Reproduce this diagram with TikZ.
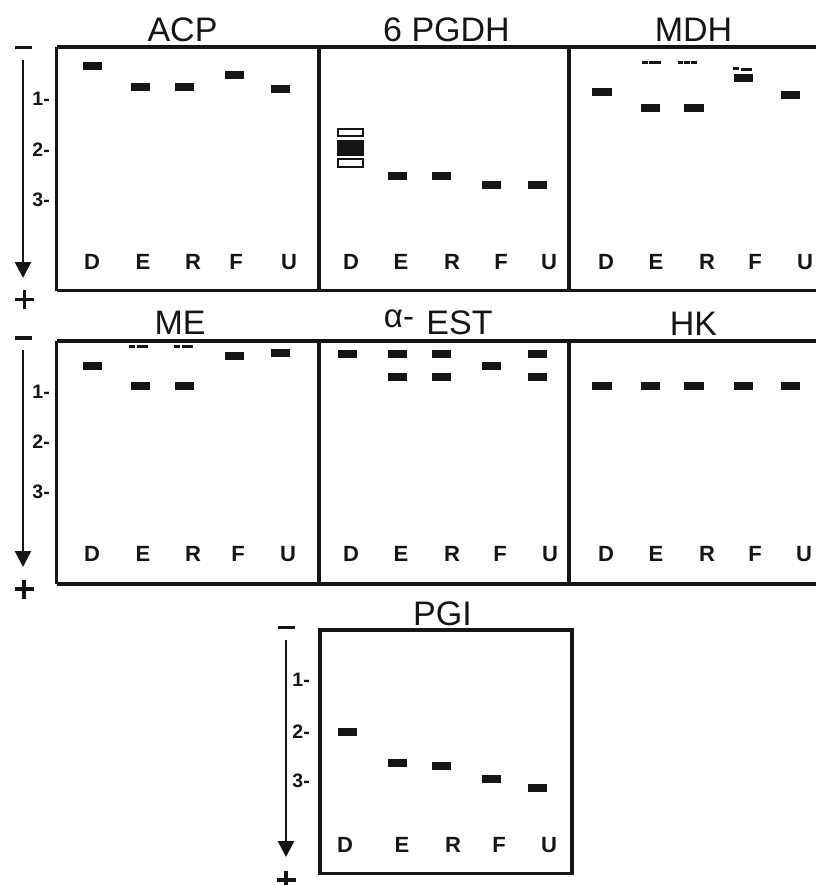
\documentclass[tikz,border=0pt]{standalone}
\usepackage{fontspec}
\setmainfont{Liberation Sans}
\usetikzlibrary{arrows.meta}
\definecolor{ink}{HTML}{151515}
\newcommand{\bnd}[2]{\fill[band] ({#1-9.5},{#2-4}) rectangle ({#1+9.5},{#2+4});}
\begin{document}
\begin{tikzpicture}[x=1pt,y=-1pt,
  frame/.style={line width=3.8pt, draw=ink},
  band/.style={fill=ink},
  title/.style={anchor=base, inner sep=0pt, text=ink, font=\fontsize{34}{34}\selectfont},
  lane/.style={anchor=base, inner sep=0pt, text=ink, font=\bfseries\fontsize{22}{22}\selectfont},
  tick/.style={anchor=base east, inner sep=0pt, text=ink, font=\bfseries\fontsize{19.5}{19.5}\selectfont},
  axis/.style={line width=2.5pt, draw=ink, -{Triangle[width=16pt,length=16pt]}},
  sign/.style={line width=3.8pt, draw=ink},
  thinband/.style={line width=3pt, draw=ink}]
\useasboundingbox (0,0) rectangle (816,885);
\fill[white] (0,0) rectangle (816,885);

% ---------- frames ----------
\draw[frame] (56.5,47) -- (816,47);
\draw[frame] (56.5,290.5) -- (816,290.5);
\draw[frame] (56.5,47) -- (56.5,290.5);
\draw[frame] (319,47) -- (319,290.5);
\draw[frame] (569,47) -- (569,290.5);

\draw[frame] (56.5,341) -- (816,341);
\draw[frame] (56.5,584) -- (816,584);
\draw[frame] (56.5,341) -- (56.5,584);
\draw[frame] (319,341) -- (319,584);
\draw[frame] (569,341) -- (569,584);

\draw[frame] (320,630) rectangle (572,873.5);

% ---------- titles ----------
\node[title] (tACP) at (182.5,42) {ACP};
\node[title] (tPGDH) at (446.5,42) {6 PGDH};
\node[title] (tMDH) at (693.5,42) {MDH};
\node[title] (tME) at (180,334) {ME};
\node[title, font=\fontsize{33}{33}\selectfont] (tAlpha) at (399,327) {α-};
\node[title] (tEST) at (459.5,334) {EST};
\node[title] (tHK) at (693.5,335) {HK};
\node[title] (tPGI) at (442.5,625) {PGI};

% ---------- axes ----------
\coordinate (a1s) at (23,60);  \coordinate (a1e) at (23,278);
\coordinate (a2s) at (23,350); \coordinate (a2e) at (23,567);
\coordinate (a3s) at (286,640); \coordinate (a3e) at (286,857);
\draw[axis] (a1s) -- (a1e);
\draw[axis] (a2s) -- (a2e);
\draw[axis] (a3s) -- (a3e);
% minus signs
\draw[sign] (15,47.5) -- (32,47.5);
\draw[sign] (15,338) -- (32,338);
\draw[sign] (278,627.5) -- (295,627.5);
% plus signs
\draw[sign] (15,299.5) -- (34,299.5) (24.5,290) -- (24.5,309);
\draw[sign] (14.5,589) -- (33.5,589) (24,579.5) -- (24,598.5);
\draw[sign] (276.5,880) -- (295.5,880) (286,871) -- (286,890);

% tick labels
\node[tick] (k11) at (50,106) {1-};
\node[tick] (k12) at (50,157) {2-};
\node[tick] (k13) at (50,207) {3-};
\node[tick] (k21) at (50,398) {1-};
\node[tick] (k22) at (50,448) {2-};
\node[tick] (k23) at (50,498) {3-};
\node[tick] (k31) at (310,686) {1-};
\node[tick] (k32) at (310,738) {2-};
\node[tick] (k33) at (310,787) {3-};

% ---------- lane labels ----------
\foreach \x/\l [count=\i] in {92/D,143/E,193/R,236/F,289/U,351/D,401/E,452/R,501/F,549/U,606/D,656/E,707/R,755/F,805/U}
  \node[lane] (la\i) at (\x,269) {\l};
\foreach \x/\l [count=\i] in {92/D,143/E,193/R,238/F,288/U,351/D,401/E,452/R,500/F,550/U,606/D,656/E,707/R,755/F,804/U}
  \node[lane] (lb\i) at (\x,561) {\l};
\foreach \x/\l [count=\i] in {345/D,402/E,453/R,499/F,549/U}
  \node[lane] (lc\i) at (\x,852) {\l};

% ---------- ACP ----------
\bnd{92.5}{66} \bnd{140.5}{87} \bnd{184.5}{87} \bnd{234}{75} \bnd{280}{89}

% ---------- 6 PGDH ----------
\draw[line width=2pt, draw=ink] (338,129.3) rectangle (363,136.3);
\fill[band] (337,140) rectangle (364,156);
\draw[line width=2pt, draw=ink] (338,159.3) rectangle (363,167);
\bnd{397.5}{176} \bnd{441.5}{176} \bnd{491.5}{185} \bnd{537.5}{185}

% ---------- MDH ----------
\fill[band] (592,88) rectangle (612,96);
\bnd{650.5}{108} \fill[band] (684,104) rectangle (704,112);
\bnd{743.5}{78} \bnd{790.5}{95}
\draw[thinband] (642,63) -- (647.7,63) (648.7,63) -- (661,63);
\draw[thinband] (678,63) -- (683.3,63) (684.3,63) -- (690,63) (691,63) -- (696.7,63);
\draw[thinband] (733,68.5) -- (739,68.5);
\draw[line width=2.5pt, draw=ink] (741,69.3) -- (752,69.3);

% ---------- ME ----------
\bnd{92.5}{366} \bnd{140.5}{386} \bnd{184.5}{386} \bnd{234}{356} \bnd{280}{353}
\draw[line width=2.5pt, draw=ink] (129.3,346.3) -- (135,346.3) (137.3,346.3) -- (147.7,346.3);
\draw[line width=2.5pt, draw=ink] (174,346.3) -- (180,346.3) (181.7,346.3) -- (192.7,346.3);

% ---------- alpha-EST ----------
\bnd{347.5}{354}
\bnd{397.5}{354} \bnd{397.5}{377}
\bnd{441.5}{354} \bnd{441.5}{377}
\bnd{491.5}{366}
\bnd{537.5}{354} \bnd{537.5}{377}

% ---------- HK ----------
\fill[band] (592,382) rectangle (612,390);
\bnd{650.5}{386} \fill[band] (684,382) rectangle (704,390);
\bnd{743.5}{386} \bnd{790.5}{386}

% ---------- PGI ----------
\bnd{347.5}{732} \bnd{397.5}{763} \bnd{441.5}{766} \bnd{491.5}{779} \bnd{537.5}{788}
\end{tikzpicture}
\end{document}
